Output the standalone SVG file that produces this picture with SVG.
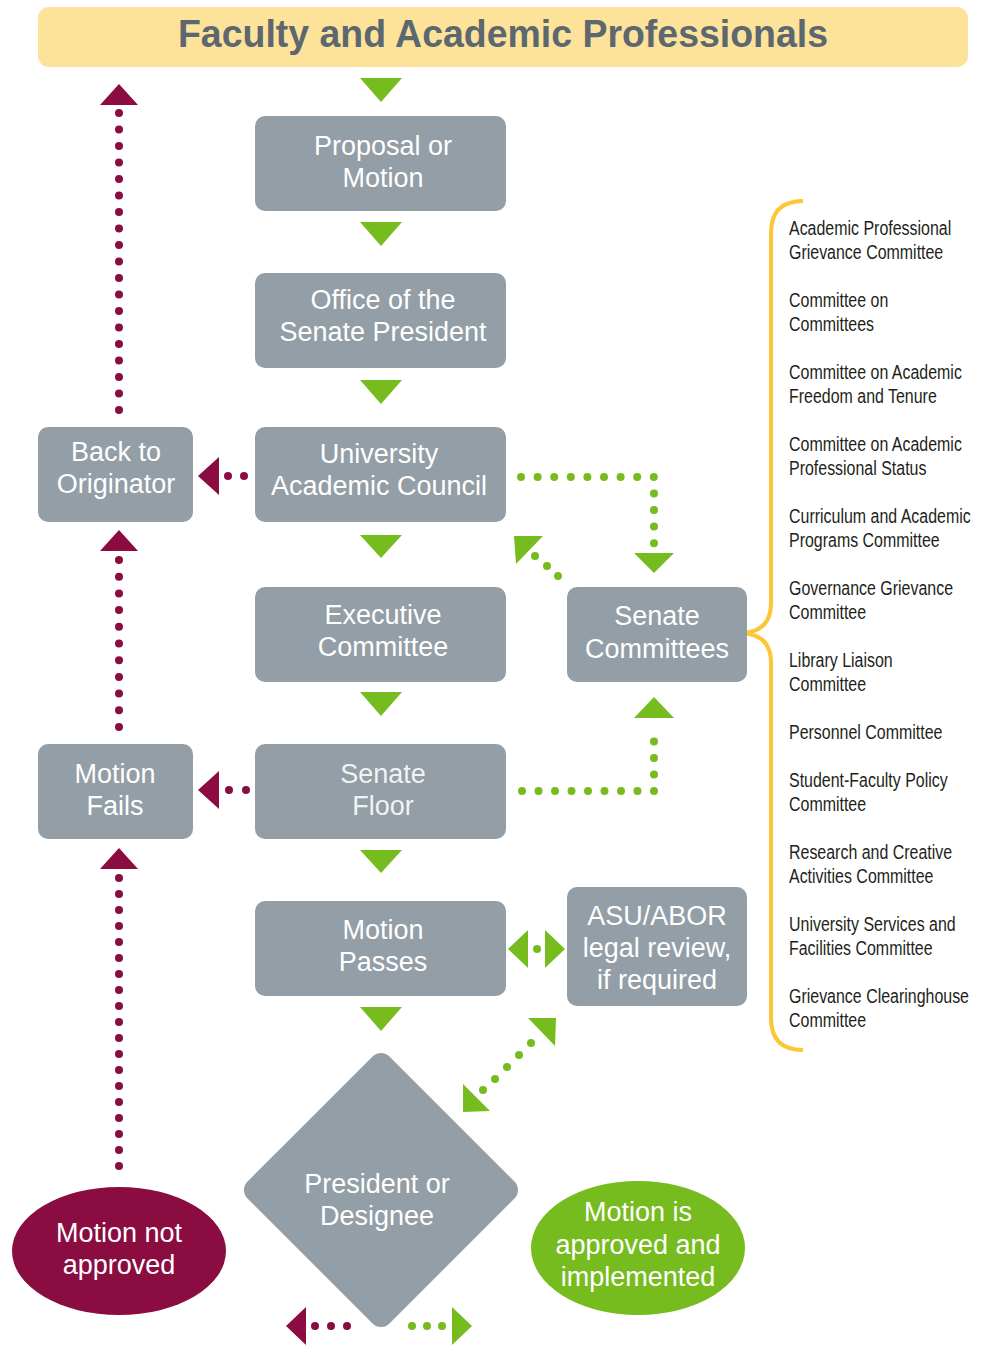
<svg xmlns="http://www.w3.org/2000/svg" width="994" height="1345" viewBox="0 0 994 1345">
<style>
.box{fill:#939ea6}
.bt{font-family:"Liberation Sans",Arial,sans-serif;font-size:27px;fill:#ffffff;text-anchor:middle}
.ct{font-family:"Liberation Sans",Arial,sans-serif;font-size:21px;fill:#231f20}
.g{fill:#77bc1f}
.m{fill:#8a0c41}
.gd{fill:none;stroke:#77bc1f;stroke-width:8;stroke-linecap:round}
.md{fill:none;stroke:#8a0c41;stroke-width:8;stroke-linecap:round}
</style>
<rect width="994" height="1345" fill="#ffffff"/>
<g id="banner">
<rect x="38" y="7" width="930" height="60" rx="11" fill="#fde29a"/>
<text x="503" y="47" font-family="Liberation Sans,sans-serif" font-weight="bold" font-size="38" fill="#5c6770" text-anchor="middle" textLength="650" lengthAdjust="spacingAndGlyphs">Faculty and Academic Professionals</text>
</g>
<g id="connectors">
<polygon class="g" points="360,78 402,78 381,102"/>
<polygon class="g" points="360,222 402,222 381,246"/>
<polygon class="g" points="360,380 402,380 381,404"/>
<polygon class="g" points="360,535 402,535 381,558"/>
<polygon class="g" points="360,692 402,692 381,716"/>
<polygon class="g" points="360,850 402,850 381,873"/>
<polygon class="g" points="360,1007 402,1007 381,1031"/>
<polygon class="m" points="119,84 138,105 100,105"/>
<line class="md" x1="119" y1="113" x2="119" y2="410.5" stroke-dasharray="0 16.5"/>
<polygon class="m" points="119,530 138,551 100,551"/>
<line class="md" x1="119" y1="560" x2="119" y2="727.5" stroke-dasharray="0 16.7"/>
<polygon class="m" points="119,848 138,869 100,869"/>
<line class="md" x1="119" y1="878" x2="119" y2="1166.5" stroke-dasharray="0 16"/>
<polygon class="m" points="198,476 219,457 219,495"/>
<circle class="m" cx="228" cy="476" r="4"/>
<circle class="m" cx="244" cy="476" r="4"/>
<polygon class="m" points="198,790 219,771 219,809"/>
<circle class="m" cx="229" cy="790" r="4"/>
<circle class="m" cx="246" cy="790" r="4"/>
<path class="gd" d="M521 477 H654 V543.5" stroke-dasharray="0 16.6"/>
<polygon class="g" points="634,553 674,553 654,573"/>
<polygon class="g" points="514,536 543,536 516,564"/>
<circle class="g" cx="535" cy="556" r="4"/>
<circle class="g" cx="547" cy="566" r="4"/>
<circle class="g" cx="558" cy="576" r="4"/>
<path class="gd" d="M522 791 H654 V726.5" stroke-dasharray="0 16.5"/>
<polygon class="g" points="654,697 674,718 634,718"/>
<polygon class="g" points="508,949 528,930 528,968"/>
<circle class="g" cx="537" cy="949" r="4"/>
<polygon class="g" points="565,949 545,930 545,968"/>
<polygon class="g" points="528,1018 556,1018 555,1046"/>
<circle class="g" cx="531" cy="1043" r="4"/>
<circle class="g" cx="519" cy="1055" r="4"/>
<circle class="g" cx="507" cy="1067" r="4"/>
<circle class="g" cx="495" cy="1079" r="4"/>
<circle class="g" cx="483" cy="1090" r="4"/>
<polygon class="g" points="463,1084 463,1112 490,1111"/>
<polygon class="m" points="286,1326 306,1307 306,1345"/>
<circle class="m" cx="315" cy="1326" r="4"/>
<circle class="m" cx="331" cy="1326" r="4"/>
<circle class="m" cx="347" cy="1326" r="4"/>
<circle class="g" cx="412" cy="1326" r="4"/>
<circle class="g" cx="427" cy="1326" r="4"/>
<circle class="g" cx="442" cy="1326" r="4"/>
<polygon class="g" points="472,1326 452,1307 452,1345"/>
<path d="M803 201 Q771 201 771 233 V603 Q771 633 739 633 Q771 633 771 663 V1018 Q771 1050 803 1050" fill="none" stroke="#fcc636" stroke-width="4"/>
</g>
<g id="proposal">
<rect class="box" x="255" y="116" width="251" height="95" rx="10"/>
<text class="bt" x="383" y="155">Proposal or</text>
<text class="bt" x="383" y="187">Motion</text>
</g>
<g id="office">
<rect class="box" x="255" y="273" width="251" height="95" rx="10"/>
<text class="bt" x="383" y="309">Office of the</text>
<text class="bt" x="383" y="341">Senate President</text>
</g>
<g id="uac">
<rect class="box" x="255" y="427" width="251" height="95" rx="10"/>
<text class="bt" x="379" y="463">University</text>
<text class="bt" x="379" y="495">Academic Council</text>
</g>
<g id="back">
<rect class="box" x="38" y="427" width="155" height="95" rx="10"/>
<text class="bt" x="116" y="461">Back to</text>
<text class="bt" x="116" y="493">Originator</text>
</g>
<g id="executive">
<rect class="box" x="255" y="587" width="251" height="95" rx="10"/>
<text class="bt" x="383" y="624">Executive</text>
<text class="bt" x="383" y="656">Committee</text>
</g>
<g id="senate-committees">
<rect class="box" x="567" y="587" width="180" height="95" rx="10"/>
<text class="bt" x="657" y="625">Senate</text>
<text class="bt" x="657" y="658">Committees</text>
</g>
<g id="senate-floor">
<rect class="box" x="255" y="744" width="251" height="95" rx="10"/>
<text class="bt" x="383" y="783" fill-opacity="0.9">Senate</text>
<text class="bt" x="383" y="815" fill-opacity="0.9">Floor</text>
</g>
<g id="motion-fails">
<rect class="box" x="38" y="744" width="155" height="95" rx="10"/>
<text class="bt" x="115" y="783">Motion</text>
<text class="bt" x="115" y="815">Fails</text>
</g>
<g id="motion-passes">
<rect class="box" x="255" y="901" width="251" height="95" rx="10"/>
<text class="bt" x="383" y="939">Motion</text>
<text class="bt" x="383" y="971">Passes</text>
</g>
<g id="asu-abor">
<rect class="box" x="567" y="887" width="180" height="119" rx="10"/>
<text class="bt" x="657" y="925" font-size="28">ASU/ABOR</text>
<text class="bt" x="657" y="957">legal review,</text>
<text class="bt" x="657" y="989">if required</text>
</g>
<g id="president">
<polygon points="381,1065 506,1190 381,1315 256,1190" fill="#939ea6" stroke="#939ea6" stroke-width="24" stroke-linejoin="round"/>
<text class="bt" x="377" y="1193">President or</text>
<text class="bt" x="377" y="1225">Designee</text>
</g>
<g id="not-approved">
<ellipse cx="119" cy="1251" rx="107" ry="64" fill="#8a0c41"/>
<text class="bt" x="119" y="1242">Motion not</text>
<text class="bt" x="119" y="1274">approved</text>
</g>
<g id="approved">
<ellipse cx="638" cy="1248" rx="107" ry="67" fill="#77bc1f"/>
<text class="bt" x="638" y="1221">Motion is</text>
<text class="bt" x="638" y="1254">approved and</text>
<text class="bt" x="638" y="1286">implemented</text>
</g>
<g id="committees-list" transform="translate(789,0) scale(0.76,1)">
<text class="ct" x="0" y="235">Academic Professional</text>
<text class="ct" x="0" y="259">Grievance Committee</text>
<text class="ct" x="0" y="307">Committee on</text>
<text class="ct" x="0" y="331">Committees</text>
<text class="ct" x="0" y="379">Committee on Academic</text>
<text class="ct" x="0" y="403">Freedom and Tenure</text>
<text class="ct" x="0" y="451">Committee on Academic</text>
<text class="ct" x="0" y="475">Professional Status</text>
<text class="ct" x="0" y="523">Curriculum and Academic</text>
<text class="ct" x="0" y="547">Programs Committee</text>
<text class="ct" x="0" y="595">Governance Grievance</text>
<text class="ct" x="0" y="619">Committee</text>
<text class="ct" x="0" y="667">Library Liaison</text>
<text class="ct" x="0" y="691">Committee</text>
<text class="ct" x="0" y="739">Personnel Committee</text>
<text class="ct" x="0" y="787">Student-Faculty Policy</text>
<text class="ct" x="0" y="811">Committee</text>
<text class="ct" x="0" y="859">Research and Creative</text>
<text class="ct" x="0" y="883">Activities Committee</text>
<text class="ct" x="0" y="931">University Services and</text>
<text class="ct" x="0" y="955">Facilities Committee</text>
<text class="ct" x="0" y="1003">Grievance Clearinghouse</text>
<text class="ct" x="0" y="1027">Committee</text>
</g>
</svg>
